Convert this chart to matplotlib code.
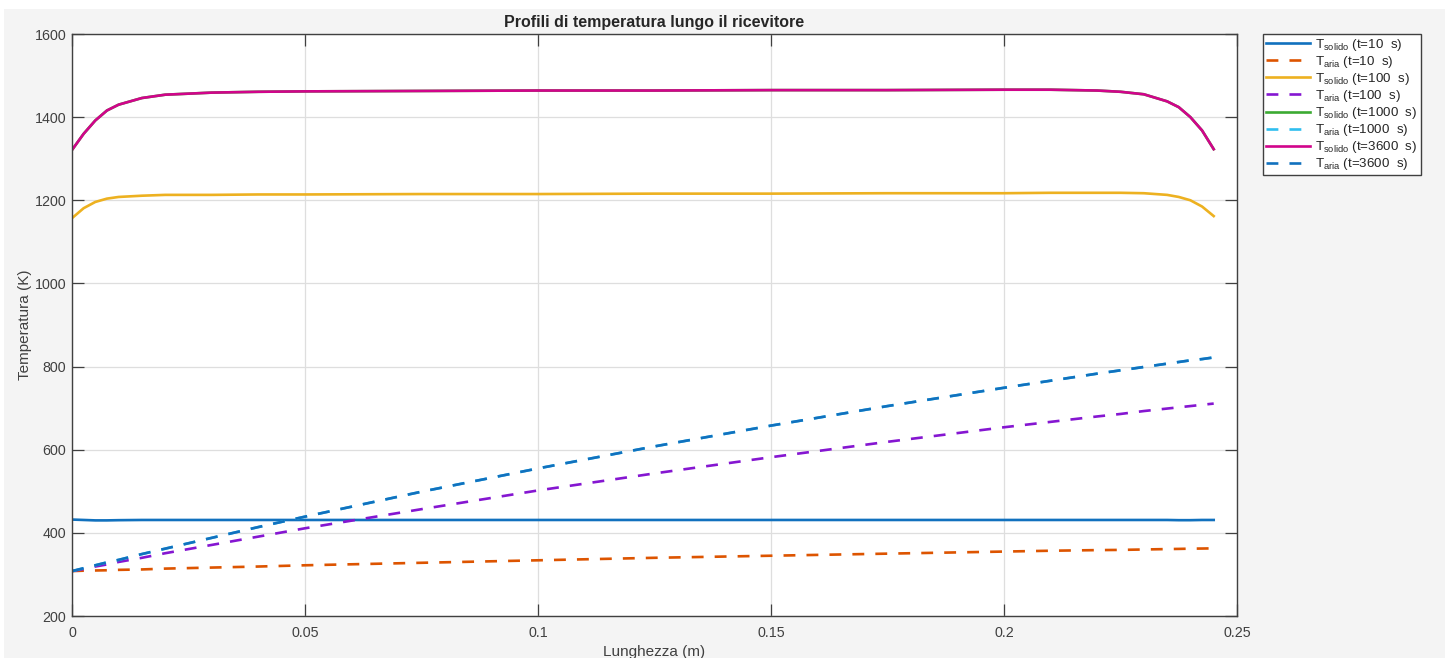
import matplotlib
matplotlib.use("Agg")
import matplotlib.pyplot as plt
from matplotlib.patches import Rectangle

plt.rcParams['font.family'] = ['Liberation Sans', 'DejaVu Sans']
plt.rcParams['mathtext.fontset'] = 'custom'
plt.rcParams['mathtext.rm'] = 'Liberation Sans'
plt.rcParams['mathtext.it'] = 'Liberation Sans:italic'
plt.rcParams['mathtext.bf'] = 'Liberation Sans:bold'

# Axial positions along the receiver (m)
x_pos = [0.0, 0.0025, 0.005, 0.0075, 0.01, 0.015, 0.02, 0.03, 0.04, 0.05,
         0.075, 0.1, 0.125, 0.15, 0.175, 0.2, 0.21, 0.22, 0.225, 0.23,
         0.235, 0.2375, 0.24, 0.2425, 0.245]

# Solid temperature profiles (K)
T_solido_10 = [432, 431, 430, 430, 430.5, 431, 431, 431, 431, 431,
               431, 431, 431, 431, 431, 431, 431, 431, 431, 431,
               431, 430.5, 430.5, 431, 431]
T_solido_100 = [1157, 1181, 1196, 1204, 1208, 1211, 1213, 1213, 1214, 1214,
                1215, 1215, 1216, 1216, 1217, 1217, 1218, 1218, 1218, 1217,
                1213, 1208, 1200, 1185, 1162]
T_solido_1000 = [1321, 1360, 1392, 1416, 1430, 1446, 1454, 1459, 1461, 1462,
                 1463, 1464, 1464, 1465, 1465, 1466, 1466, 1464, 1461, 1455,
                 1438, 1424, 1400, 1368, 1323]
T_solido_3600 = [1321, 1360, 1392, 1416, 1430, 1446, 1454, 1459, 1461, 1462,
                 1463, 1464, 1464, 1465, 1465, 1466, 1466, 1464, 1461, 1455,
                 1438, 1424, 1400, 1368, 1323]

# Air temperature profiles (K)
T_aria_10 = [308, 309, 309.5, 310, 311, 312, 314, 316.5, 319, 322,
             328, 334, 340, 345, 350, 355, 357, 358.5, 359, 360,
             361, 361.4, 362, 362.3, 362.7]
T_aria_100 = [308, 313, 319, 324, 330, 340, 351, 371, 391, 411,
              457, 502, 543, 582, 619, 654, 667, 680, 686, 693,
              699, 702, 705, 708, 711]
T_aria_1000 = [308, 315, 322, 329, 335, 349, 362, 388, 414, 439,
               499, 555, 608, 658, 705, 749, 766, 783, 791, 799,
               807, 811, 815, 818, 822]
T_aria_3600 = [308, 315, 322, 329, 335, 349, 362, 388, 414, 439,
               499, 555, 608, 658, 705, 749, 766, 783, 791, 799,
               807, 811, 815, 818, 822]

x_ticks = [0, 0.05, 0.1, 0.15, 0.2, 0.25]
x_tick_labels = ['0', '0.05', '0.1', '0.15', '0.2', '0.25']
y_ticks = [200, 400, 600, 800, 1000, 1200, 1400, 1600]
y_tick_labels = ['200', '400', '600', '800', '1000', '1200', '1400', '1600']

series = [
    (T_solido_10, r'T$_{\mathrm{solido}}$ (t=10  s)', '#1171BE', '-'),
    (T_aria_10, r'T$_{\mathrm{aria}}$ (t=10  s)', '#DD5400', '--'),
    (T_solido_100, r'T$_{\mathrm{solido}}$ (t=100  s)', '#EDB120', '-'),
    (T_aria_100, r'T$_{\mathrm{aria}}$ (t=100  s)', '#8516D1', '--'),
    (T_solido_1000, r'T$_{\mathrm{solido}}$ (t=1000  s)', '#3BAA32', '-'),
    (T_aria_1000, r'T$_{\mathrm{aria}}$ (t=1000  s)', '#2FBEEF', '--'),
    (T_solido_3600, r'T$_{\mathrm{solido}}$ (t=3600  s)', '#D1048B', '-'),
    (T_aria_3600, r'T$_{\mathrm{aria}}$ (t=3600  s)', '#1171BE', '--'),
]

W, H = 1445, 658
fig = plt.figure(figsize=(W / 100, H / 100), dpi=100, facecolor='white')
fig.patches.append(Rectangle((4 / W, 0), 1, 1 - 9 / H, transform=fig.transFigure,
                             facecolor='#f4f4f4', edgecolor='none', zorder=-10))

ax = fig.add_axes([72 / W, 1 - 616 / H, 1165 / W, 582 / H])
ax.set_facecolor('white')

for vals, label, color, ls in series:
    line, = ax.plot(x_pos, vals, color=color, linestyle=ls, linewidth=1.9, label=label)
    if ls == '--':
        line.set_dashes((4.5, 4.2))

ax.set_xlim(0, 0.25)
ax.set_ylim(200, 1600)
ax.set_xticks(x_ticks)
ax.set_xticklabels(x_tick_labels)
ax.set_yticks(y_ticks)
ax.set_yticklabels(y_tick_labels)

ax.set_axisbelow(True)
ax.grid(True, color='#dedede', linewidth=0.9)
for sp in ax.spines.values():
    sp.set_color('#404040')
    sp.set_linewidth(1.0)
ax.tick_params(direction='in', length=8.4, width=0.9, top=True, right=True,
               colors='#404040', labelcolor='#404040', labelsize=10.3)
ax.tick_params(axis='y', pad=4)
ax.tick_params(axis='x', pad=7)

ax.set_title('Profili di temperatura lungo il ricevitore', fontsize=11.5,
             fontweight='bold', color='#262626', pad=5)
ax.set_xlabel('Lunghezza (m)', fontsize=11, color='#404040', labelpad=4)
ax.set_ylabel('Temperatura (K)', fontsize=11, color='#404040', labelpad=2)

leg = ax.legend(loc='upper left', bbox_to_anchor=((1263 - 72) / 1165, 1.0),
                borderaxespad=0, frameon=True, fancybox=False, framealpha=1,
                edgecolor='#404040', fontsize=9.6, handlelength=3.3,
                handletextpad=0.4, labelspacing=0.08, borderpad=0.22)
leg.get_frame().set_linewidth(1.0)
for t in leg.get_texts():
    t.set_color('#262626')
for h in leg.get_lines():
    if h.get_linestyle() == '--':
        h.set_dashes((4.5, 4.2))

fig.savefig('out.png', dpi=100, facecolor=fig.get_facecolor())
